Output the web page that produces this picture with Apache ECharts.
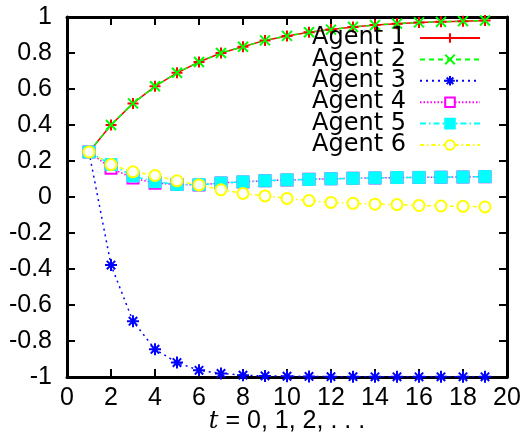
<!DOCTYPE html>
<html>
<head>
<meta charset="utf-8">
<script src="https://cdn.jsdelivr.net/npm/echarts@6/dist/echarts.min.js"></script>
<style>
  html, body { margin: 0; padding: 0; background: #fff; }
  #main { width: 527px; height: 445px; }
</style>
</head>
<body>
<div id="main"></div>
<script>
// time steps
const steps = [1, 2, 3, 4, 5, 6, 7, 8, 9, 10, 11, 12, 13, 14, 15, 16, 17, 18, 19]
const agent1 = [0.25, 0.40, 0.52, 0.615, 0.69, 0.75, 0.80, 0.835, 0.87, 0.895, 0.915, 0.93, 0.945, 0.955, 0.963, 0.97, 0.973, 0.977, 0.981]
const agent2 = [0.25, 0.40, 0.52, 0.615, 0.69, 0.75, 0.80, 0.835, 0.87, 0.895, 0.915, 0.93, 0.945, 0.955, 0.963, 0.97, 0.973, 0.977, 0.981]
const agent3 = [0.25, -0.378, -0.69, -0.846, -0.92, -0.963, -0.98, -0.99, -0.994, -0.996, -0.997, -0.998, -0.998, -0.999, -0.999, -0.999, -0.999, -0.999, -0.999]
const agent4 = [0.25, 0.16, 0.105, 0.077, 0.07, 0.067, 0.078, 0.084, 0.09, 0.095, 0.098, 0.101, 0.104, 0.106, 0.108, 0.109, 0.11, 0.111, 0.113]
const agent5 = [0.25, 0.18, 0.117, 0.085, 0.07, 0.068, 0.078, 0.084, 0.09, 0.095, 0.098, 0.101, 0.104, 0.106, 0.108, 0.109, 0.11, 0.111, 0.113]
const agent6 = [0.25, 0.18, 0.14, 0.12, 0.09, 0.067, 0.04, 0.02, 0.006, -0.008, -0.02, -0.03, -0.035, -0.04, -0.042, -0.047, -0.05, -0.052, -0.055]
const names = ['Agent 1', 'Agent 2', 'Agent 3', 'Agent 4', 'Agent 5', 'Agent 6']

const font = 'DejaVu Sans'
const tickFont = 'Liberation Sans'
const pair = arr => steps.map((t, i) => [t, arr[i]])

// gnuplot style point shapes
const plus = 'path://M5,0L5,10M0,5L10,5'
const cross = 'path://M0,0L10,10M10,0L0,10'
const star = 'path://M5,0L5,10M0,5L10,5M1.5,1.5L8.5,8.5M8.5,1.5L1.5,8.5'

function mk(name, data, color, symbol, size, lineType, filled) {
  return {
    name: name,
    type: 'line',
    data: pair(data),
    symbol: symbol,
    symbolSize: size,
    showAllSymbol: true,
    animation: false,
    lineStyle: { color: color, width: 1.5, type: lineType },
    itemStyle: filled ? { color: color, borderColor: color, borderWidth: 1 }
                      : { color: symbol.indexOf('empty') === 0 ? color : 'none', borderColor: color, borderWidth: 2 }
  }
}

const axisLine = { show: true, onZero: false, lineStyle: { color: '#000', width: 3 } }
const tick = { show: true, inside: true, length: 8, lineStyle: { color: '#000', width: 2 } }

let myChart = echarts.init(document.getElementById('main'))
myChart.setOption({
  backgroundColor: '#fff',
  animation: false,
  grid: { left: 67, right: 20, top: 17, bottom: 68, outerBoundsMode: 'none' },
  legend: {
    data: names,
    right: 46,
    top: 26,
    orient: 'vertical',
    align: 'right',
    padding: 0,
    itemGap: -2.6,
    itemWidth: 60,
    itemHeight: 12,
    textStyle: { fontFamily: font, fontSize: 24, color: '#000', padding: [0, 9, 0, 0] }
  },
  xAxis: [{
    type: 'value', min: 0, max: 20, interval: 2,
    axisLine: axisLine, axisTick: tick, splitLine: { show: false },
    axisLabel: { fontFamily: tickFont, fontSize: 25, color: '#000', margin: 9 },
    name: '{i|t} = 0, 1, 2, . . .',
    nameLocation: 'middle',
    nameGap: 32,
    nameMoveOverlap: false,
    nameTextStyle: {
      fontFamily: tickFont, fontSize: 25, color: '#000',
      rich: { i: { fontFamily: 'DejaVu Serif', fontStyle: 'italic', fontSize: 24, color: '#000' } }
    }
  }, {
    type: 'value', min: 0, max: 20, interval: 2, position: 'top',
    axisLine: axisLine, axisTick: tick, axisLabel: { show: false }, splitLine: { show: false }
  }],
  yAxis: [{
    type: 'value', min: -1, max: 1, interval: 0.2,
    axisLine: axisLine, axisTick: tick, splitLine: { show: false },
    axisLabel: { fontFamily: tickFont, fontSize: 25, color: '#000', margin: 15 }
  }, {
    type: 'value', min: -1, max: 1, interval: 0.2, position: 'right',
    axisLine: axisLine, axisTick: tick, axisLabel: { show: false }, splitLine: { show: false }
  }],
  series: [
    mk(names[0], agent1, '#ff0000', plus, 11, 'solid', false),
    mk(names[1], agent2, '#00ff00', cross, 10, [5, 4], false),
    mk(names[2], agent3, '#0000ff', star, 12, [2, 4], false),
    mk(names[3], agent4, '#ff00ff', 'emptyRect', 11, [1.5, 2], false),
    mk(names[4], agent5, '#00ffff', 'rect', 12, [6, 3, 1.5, 3], true),
    mk(names[5], agent6, '#ffff00', 'emptyCircle', 11, [4, 3, 1.5, 3], false)
  ]
})
</script>
</body>
</html>
